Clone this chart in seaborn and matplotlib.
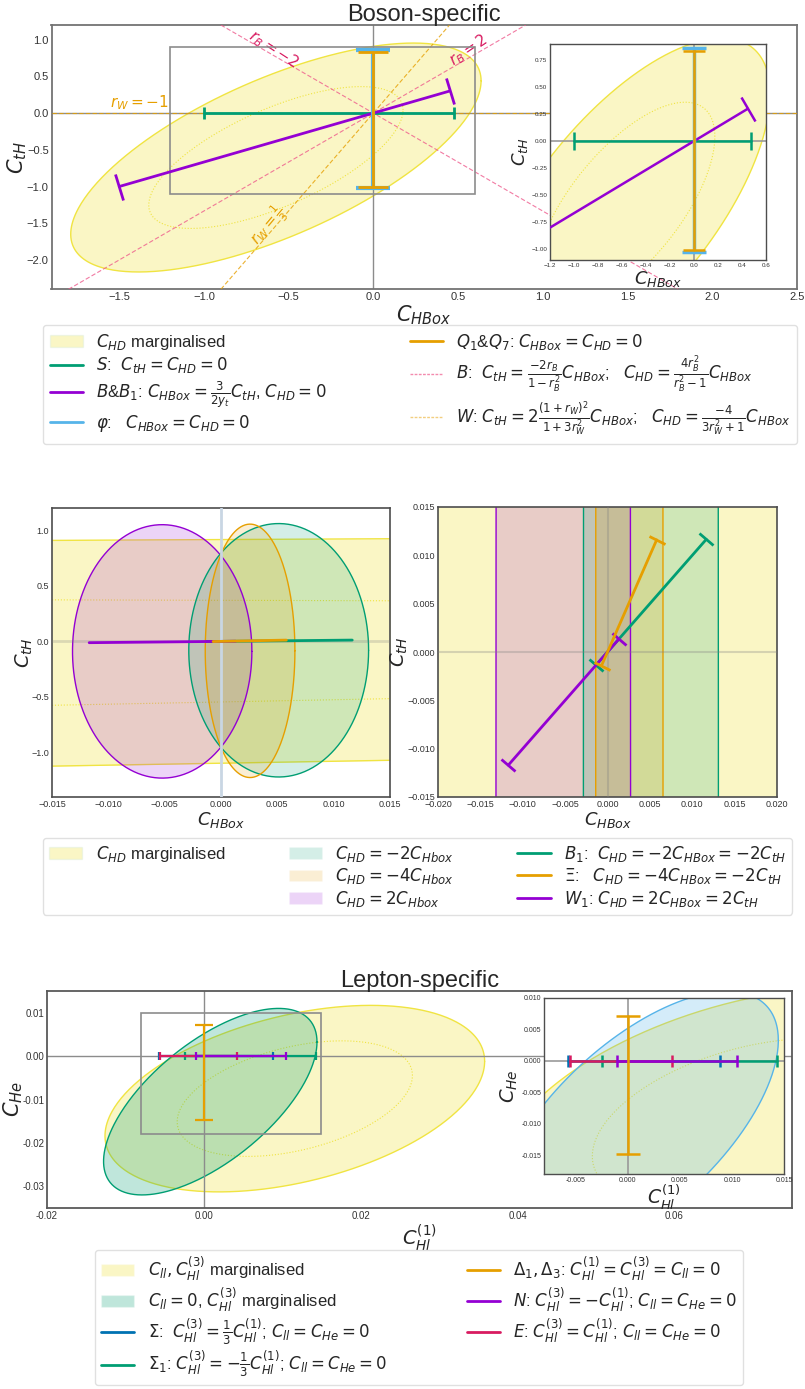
import numpy as np
import matplotlib
matplotlib.use("Agg")
import matplotlib.pyplot as plt
import seaborn as sns
from matplotlib.markers import MarkerStyle
from matplotlib.transforms import Affine2D
from matplotlib.patches import Patch, Rectangle
from matplotlib.lines import Line2D

# ---------------- boson-specific plane (C_HBox, C_tH) ----------------
boson_xlim = [-1.9, 2.5]
boson_ylim = [-2.4, 1.2]
boson_inset_xlim = [-1.2, 0.6]
boson_inset_ylim = [-1.1, 0.9]

# C_HD-marginalised fit: centre, widths, correlation
boson_centre = [-0.575, -0.605]
boson_sigma = [0.495, 0.637]
boson_rho = 0.67

# one-parameter intervals
S_range = [-1.0, 0.475]      # C_HBox with C_tH = 0
B_range = [-1.5, 0.45]       # C_HBox along the B&B1 direction
y_t = 1.0
phi_range = [-1.025, 0.86]   # C_tH with C_HBox = 0
Q_range = [-1.005, 0.835]    # C_tH with C_HBox = 0
rB_values = [2, -2]
rW_values = [1 / 3, -1]

# ---------------- W1 / B1 / Xi zoom ----------------
mid_band_x = [-0.02, 0.02]
mid_outer_top = [0.906, 0.926]
mid_outer_bot = [-1.131, -1.061]
mid_inner_top = [0.375, 0.364]
mid_inner_bot = [-0.585, -0.505]

mid_names = ["B1", "Xi", "W1"]
mid_cx = [0.00512, 0.00258, -0.00522]
mid_cy = [-0.08, -0.085, -0.09]
mid_hw = [0.00798, 0.00398, 0.00796]
mid_hh = [1.14, 1.14, 1.14]
mid_seg_lo = [-0.0013, -0.0007, -0.0117]
mid_seg_hi = [0.01165, 0.0058, 0.0013]
mid_slope = [1.0, 2.0, 1.0]

# ---------------- lepton-specific plane (C_Hl1, C_He) ----------------
lep_xlim = [-0.02, 0.075]
lep_ylim = [-0.035, 0.015]
lep_inset_xlim = [-0.008, 0.015]
lep_inset_ylim = [-0.018, 0.010]
lep_marg_centre = [0.0116, -0.0098]
lep_marg_sigma = [0.00989, 0.00878]
lep_marg_rho = 0.40
lep_cll_centre = [0.00082, -0.0105]
lep_cll_sigma = [0.00556, 0.00878]
lep_cll_rho = 0.64
Sigma_range = [-0.00577, 0.00888]
Sigma1_range = [-0.00246, 0.0143]
E_range = [-0.00553, 0.00424]
N_range = [-0.00105, 0.0105]
Delta_range = [-0.0148, 0.0071]   # C_He with C_Hl1 = 0

YELLOW = "#F0E442"
GREEN = "#009E73"
ORANGE = "#E69F00"
PURPLE = "#9400D3"
SKY = "#56B4E9"
BLUE = "#0072B2"
RED = "#D81B60"
PINK = "#EE5A8C"

W, H = 805, 1389


def gauss_outline(centre, sigma, rho, chi2):
    t = np.linspace(0, 2 * np.pi, 400)
    r = np.sqrt(chi2)
    x = centre[0] + r * sigma[0] * np.cos(t)
    y = centre[1] + r * sigma[1] * (rho * np.cos(t) + np.sqrt(1 - rho ** 2) * np.sin(t))
    return x, y


def draw_region(ax, centre, sigma, rho, face, edge, alpha=0.3, chi2=5.99, inner=True, z=1):
    x, y = gauss_outline(centre, sigma, rho, chi2)
    ax.fill(x, y, facecolor=face, alpha=alpha, edgecolor="none", zorder=z)
    ax.plot(x, y, color=edge, lw=1, zorder=z + 0.1)
    if inner:
        xi, yi = gauss_outline(centre, sigma, rho, 2.30)
        ax.plot(xi, yi, color=edge, lw=0.8, ls=":", zorder=z + 0.1)


def segment(ax, x, y, color, lw, cap, z=5):
    sns.lineplot(x=x, y=y, color=color, lw=lw, ax=ax, sort=False,
                 estimator=None, zorder=z)
    if cap:
        p = ax.transData.transform(np.column_stack([x, y]))
        ang = np.degrees(np.arctan2(p[1, 1] - p[0, 1], p[1, 0] - p[0, 0]))
        m = MarkerStyle("|", transform=Affine2D().rotate_deg(ang))
        ax.plot(x, y, ls="none", marker=m, ms=cap, mew=lw, color=color, zorder=z)


def style_axes(ax, tick, spine="0.35", slw=1.3):
    ax.tick_params(labelsize=tick, pad=2, length=0, colors="0.2")
    for s in ax.spines.values():
        s.set_color(spine)
        s.set_linewidth(slw)


sns.set_theme(style="white")
plt.rcParams["font.family"] = ["Liberation Sans", "DejaVu Sans"]
plt.rcParams["mathtext.fontset"] = "dejavusans"
plt.rcParams["axes.unicode_minus"] = True

fig = plt.figure(figsize=(W / 100, H / 100), dpi=100)

# ======================= Boson-specific =======================
ax = fig.add_axes([51.5 / W, 1 - 289.3 / H, 745.2 / W, 264.3 / H])
ax.set_xlim(boson_xlim)
ax.set_ylim(boson_ylim)
style_axes(ax, 8, "0.45")
draw_region(ax, boson_centre, boson_sigma, boson_rho, YELLOW, YELLOW)
ax.axhline(0, color="0.55", lw=1, zorder=2)
ax.axvline(0, color="0.55", lw=1, zorder=2)
for r in rB_values:
    ax.axline((0, 0), slope=-2 * r / (1 - r ** 2), color=PINK, lw=0.8,
              ls=(0, (4, 2)), alpha=0.8, zorder=3)
for r in rW_values:
    ax.axline((0, 0), slope=2 * (1 + r) ** 2 / (1 + 3 * r ** 2), color=ORANGE,
              lw=0.8, ls=(0, (4, 2)), alpha=0.8, zorder=3)
ax.add_patch(Rectangle((boson_inset_xlim[0], boson_inset_ylim[0]),
                       boson_inset_xlim[1] - boson_inset_xlim[0],
                       boson_inset_ylim[1] - boson_inset_ylim[0],
                       fill=False, edgecolor="0.55", lw=1.2, zorder=4))
B_slope = 2 * y_t / 3
segment(ax, S_range, [0, 0], GREEN, 2, 9)
segment(ax, B_range, [B_slope * v for v in B_range], PURPLE, 2, 20)
segment(ax, [0, 0], phi_range, SKY, 3, 24)
segment(ax, [0, 0], Q_range, ORANGE, 2, 22)
ax.text(-1.38, 0.01, r"$r_W = -1$", color=ORANGE, fontsize=11, ha="center", va="bottom")
ax.text(-0.62, -1.53, r"$r_W = \frac{1}{3}$", color=ORANGE, fontsize=11, ha="center",
        va="center", rotation=50)
ax.text(-0.59, 0.87, r"$r_B = -2$", color=RED, fontsize=11, ha="center",
        va="center", rotation=-33)
ax.text(0.565, 0.85, r"$r_B = 2$", color=RED, fontsize=11, ha="center",
        va="center", rotation=34)
ax.set_xlabel(r"$C_{HBox}$", fontsize=15, labelpad=1)
ax.set_ylabel(r"$C_{tH}$", fontsize=15)
ax.yaxis.set_label_coords(-0.030, 0.5)
ax.set_title("Boson-specific", fontsize=17, pad=3, color="0.15")

axi = fig.add_axes([550 / W, 1 - 260 / H, 215.7 / W, 216 / H])
axi.set_facecolor("white")
axi.set_xlim(boson_inset_xlim)
axi.set_ylim(boson_inset_ylim)
style_axes(axi, 4.5, "0.3", 1.0)
axi.set_xticks(np.arange(-1.2, 0.61, 0.2))
axi.set_yticks(np.arange(-1.0, 0.76, 0.25))
draw_region(axi, boson_centre, boson_sigma, boson_rho, YELLOW, YELLOW)
axi.axhline(0, color="0.6", lw=1.2, zorder=2)
axi.axvline(0, color="0.6", lw=1.2, zorder=2)
segment(axi, S_range, [0, 0], GREEN, 1.8, 13)
segment(axi, B_range, [B_slope * v for v in B_range], PURPLE, 1.8, 20)
segment(axi, [0, 0], phi_range, SKY, 2.5, 17)
segment(axi, [0, 0], Q_range, ORANGE, 1.8, 16)
axi.set_xlabel(r"$C_{HBox}$", fontsize=13, labelpad=1)
axi.set_ylabel(r"$C_{tH}$", fontsize=13, labelpad=1)

top_handles = [
    Patch(facecolor=YELLOW, alpha=0.3, edgecolor="#cfe8d8"),
    Line2D([], [], color=GREEN, lw=2),
    Line2D([], [], color=PURPLE, lw=2),
    Line2D([], [], color=SKY, lw=2),
    Line2D([], [], color=ORANGE, lw=2),
    Line2D([], [], color=PINK, lw=1, ls=(0, (2, 1)), alpha=0.7),
    Line2D([], [], color=ORANGE, lw=1, ls=(0, (2, 1)), alpha=0.5),
]
top_labels = [
    r"$C_{HD}$ marginalised",
    r"$S$:  $C_{tH} = C_{HD} = 0$",
    r"$B$&$B_1$: $C_{HBox} = \frac{3}{2y_t}C_{tH}$, $C_{HD} = 0$",
    r"$\varphi$:   $C_{HBox} = C_{HD} = 0$",
    r"$Q_1$&$Q_7$: $C_{HBox} = C_{HD} = 0$",
    r"$B$:  $C_{tH} = \frac{-2r_B}{1-r_B^2}C_{HBox}$;   $C_{HD} = \frac{4r_B^2}{r_B^2-1}C_{HBox}$",
    r"$W$: $C_{tH} = 2\frac{(1+r_W)^2}{1+3r_W^2}C_{HBox}$;   $C_{HD} = \frac{-4}{3r_W^2+1}C_{HBox}$",
]
fig.legend(top_handles, top_labels, loc="upper left",
           bbox_to_anchor=(43 / W, 1 - 325 / H, 754 / W, 0), mode="expand",
           ncol=2, fontsize=12, frameon=True, edgecolor="0.85",
           labelspacing=0.22, borderpad=0.4, borderaxespad=0)

# ======================= W1 / B1 / Xi zoom =======================
axl = fig.add_axes([52 / W, 1 - 797 / H, 338 / W, 289 / H])
axr = fig.add_axes([438 / W, 1 - 797 / H, 339 / W, 290 / H])
axl.set_xlim(-0.015, 0.015)
axl.set_ylim(-1.4, 1.2)
axr.set_xlim(-0.02, 0.02)
axr.set_ylim(-0.015, 0.015)
mid_colors = [GREEN, ORANGE, PURPLE]
for a, tick in ((axl, 6.5), (axr, 6.5)):
    style_axes(a, tick, "0.3", 1.2)
    a.fill_between(mid_band_x, mid_outer_bot, mid_outer_top, color=YELLOW,
                   alpha=0.3, lw=0, zorder=1)
    a.plot(mid_band_x, mid_outer_top, color=YELLOW, lw=1, zorder=1.1)
    a.plot(mid_band_x, mid_outer_bot, color=YELLOW, lw=1, zorder=1.1)
    a.plot(mid_band_x, mid_inner_top, color=YELLOW, lw=0.8, ls=":", zorder=1.1)
    a.plot(mid_band_x, mid_inner_bot, color=YELLOW, lw=0.8, ls=":", zorder=1.1)
    for i in [2, 0, 1]:
        x, y = gauss_outline([mid_cx[i], mid_cy[i]], [mid_hw[i], mid_hh[i]], 0.0, 1.0)
        a.fill(x, y, facecolor=mid_colors[i], alpha=0.17, edgecolor="none", zorder=2)
        a.plot(x, y, color=mid_colors[i], lw=1, zorder=2.1)
    a.set_xlabel(r"$C_{HBox}$", fontsize=13, labelpad=1)
    a.set_ylabel(r"$C_{tH}$", fontsize=14)
axl.yaxis.set_label_coords(-0.050, 0.5)
axr.yaxis.set_label_coords(-0.082, 0.5)
axl.axvline(0, color="#c9d6e3", lw=2, zorder=3)
axl.axhline(0, color="0.5", lw=2, alpha=0.25, zorder=3)
axr.axvline(0, color="0.5", lw=1.5, alpha=0.3, zorder=3)
axr.axhline(0, color="0.5", lw=1.5, alpha=0.3, zorder=3)
for i in [0, 2, 1]:
    xs = [mid_seg_lo[i], mid_seg_hi[i]]
    ys = [mid_slope[i] * v for v in xs]
    segment(axl, xs, ys, mid_colors[i], 2, 0)
    segment(axr, xs, ys, mid_colors[i], 2, 13)

blank = Patch(facecolor="none", edgecolor="none")
mid_handles = [
    Patch(facecolor=YELLOW, alpha=0.3, edgecolor="#cfe8d8"), blank, blank,
    Patch(facecolor=GREEN, alpha=0.17), Patch(facecolor=ORANGE, alpha=0.17),
    Patch(facecolor=PURPLE, alpha=0.17),
    Line2D([], [], color=GREEN, lw=2), Line2D([], [], color=ORANGE, lw=2),
    Line2D([], [], color=PURPLE, lw=2),
]
mid_labels = [
    r"$C_{HD}$ marginalised", " ", " ",
    r"$C_{HD} = -2C_{Hbox}$", r"$C_{HD} = -4C_{Hbox}$", r"$C_{HD} = 2C_{Hbox}$",
    r"$B_1$:  $C_{HD} = -2C_{HBox} = -2C_{tH}$",
    r"$\Xi$:   $C_{HD} = -4C_{HBox} = -2C_{tH}$",
    r"$W_1$: $C_{HD} = 2C_{HBox} = 2C_{tH}$",
]
fig.legend(mid_handles, mid_labels, loc="upper left",
           bbox_to_anchor=(43 / W, 1 - 838 / H, 749 / W, 0), mode="expand",
           ncol=3, fontsize=12, frameon=True, edgecolor="0.85",
           labelspacing=0.15, borderpad=0.35, borderaxespad=0)

# ======================= Lepton-specific =======================
axb = fig.add_axes([47 / W, 1 - 1208 / H, 745 / W, 217 / H])
axb.set_xlim(lep_xlim)
axb.set_ylim(lep_ylim)
axb.set_xticks([-0.02, 0.0, 0.02, 0.04, 0.06])
axb.set_yticks([-0.03, -0.02, -0.01, 0.0, 0.01])
style_axes(axb, 7, "0.35")
axb.xaxis.set_major_formatter(matplotlib.ticker.FormatStrFormatter("%.2f"))
axb.yaxis.set_major_formatter(matplotlib.ticker.FormatStrFormatter("%.2f"))
draw_region(axb, lep_marg_centre, lep_marg_sigma, lep_marg_rho, YELLOW, YELLOW)
draw_region(axb, lep_cll_centre, lep_cll_sigma, lep_cll_rho, GREEN, GREEN,
            alpha=0.25, inner=False, z=1.5)
axb.axhline(0, color="0.55", lw=1, zorder=2)
axb.axvline(0, color="0.55", lw=1, zorder=2)
axb.add_patch(Rectangle((lep_inset_xlim[0], lep_inset_ylim[0]),
                        lep_inset_xlim[1] - lep_inset_xlim[0],
                        lep_inset_ylim[1] - lep_inset_ylim[0],
                        fill=False, edgecolor="0.55", lw=1.2, zorder=4))


def lepton_lines(a, cap_h, cap_v, lw):
    segment(a, Sigma_range, [0, 0], BLUE, lw, cap_h)
    segment(a, Sigma1_range, [0, 0], GREEN, lw, cap_h)
    segment(a, E_range, [0, 0], RED, lw, cap_h)
    segment(a, N_range, [0, 0], PURPLE, lw, cap_h)
    segment(a, [0, 0], Delta_range, ORANGE, lw, cap_v)


lepton_lines(axb, 6, 13, 1.6)
axb.set_xlabel(r"$C_{Hl}^{(1)}$", fontsize=14, labelpad=1)
axb.set_ylabel(r"$C_{He}$", fontsize=15)
axb.yaxis.set_label_coords(-0.030, 0.5)
axb.set_title("Lepton-specific", fontsize=17, pad=3, color="0.15")

axbi = fig.add_axes([544.3 / W, 1 - 1174.3 / H, 240 / W, 176.6 / H])
axbi.set_facecolor("white")
axbi.set_xlim(lep_inset_xlim)
axbi.set_ylim(lep_inset_ylim)
style_axes(axbi, 5, "0.3", 1.0)
axbi.set_xticks([-0.005, 0.0, 0.005, 0.01, 0.015])
axbi.set_yticks([-0.015, -0.01, -0.005, 0.0, 0.005, 0.01])
axbi.xaxis.set_major_formatter(matplotlib.ticker.FormatStrFormatter("%.3f"))
axbi.yaxis.set_major_formatter(matplotlib.ticker.FormatStrFormatter("%.3f"))
draw_region(axbi, lep_marg_centre, lep_marg_sigma, lep_marg_rho, YELLOW, YELLOW)
draw_region(axbi, lep_cll_centre, lep_cll_sigma, lep_cll_rho, SKY, SKY,
            alpha=0.25, inner=False, z=1.5)
axbi.axhline(0, color="0.6", lw=1.2, zorder=2)
axbi.axvline(0, color="0.6", lw=1.2, zorder=2)
lepton_lines(axbi, 8, 17, 1.8)
axbi.set_xlabel(r"$C_{Hl}^{(1)}$", fontsize=13.5, labelpad=-1)
axbi.set_ylabel(r"$C_{He}$", fontsize=14, labelpad=1)

bot_handles = [
    Patch(facecolor=YELLOW, alpha=0.3),
    Patch(facecolor=GREEN, alpha=0.25),
    Line2D([], [], color=BLUE, lw=2),
    Line2D([], [], color=GREEN, lw=2),
    Line2D([], [], color=ORANGE, lw=2),
    Line2D([], [], color=PURPLE, lw=2),
    Line2D([], [], color=RED, lw=2),
]
bot_labels = [
    r"$C_{ll}, C_{Hl}^{(3)}$ marginalised",
    r"$C_{ll} = 0$, $C_{Hl}^{(3)}$ marginalised",
    r"$\Sigma$:  $C_{Hl}^{(3)} = \frac{1}{3}C_{Hl}^{(1)}$; $C_{ll} = C_{He} = 0$",
    r"$\Sigma_1$: $C_{Hl}^{(3)} = -\frac{1}{3}C_{Hl}^{(1)}$; $C_{ll} = C_{He} = 0$",
    r"$\Delta_1, \Delta_3$: $C_{Hl}^{(1)} = C_{Hl}^{(3)} = C_{ll} = 0$",
    r"$N$: $C_{Hl}^{(3)} = -C_{Hl}^{(1)}$; $C_{ll} = C_{He} = 0$",
    r"$E$: $C_{Hl}^{(3)} = C_{Hl}^{(1)}$; $C_{ll} = C_{He} = 0$",
]
fig.legend(bot_handles, bot_labels, loc="upper left",
           bbox_to_anchor=(95 / W, 1 - 1250 / H, 648 / W, 0), mode="expand",
           ncol=2, fontsize=12, frameon=True, edgecolor="0.85",
           labelspacing=0.2, borderpad=0.35, borderaxespad=0)

fig.savefig("out.png", dpi=100)
plt.close(fig)
